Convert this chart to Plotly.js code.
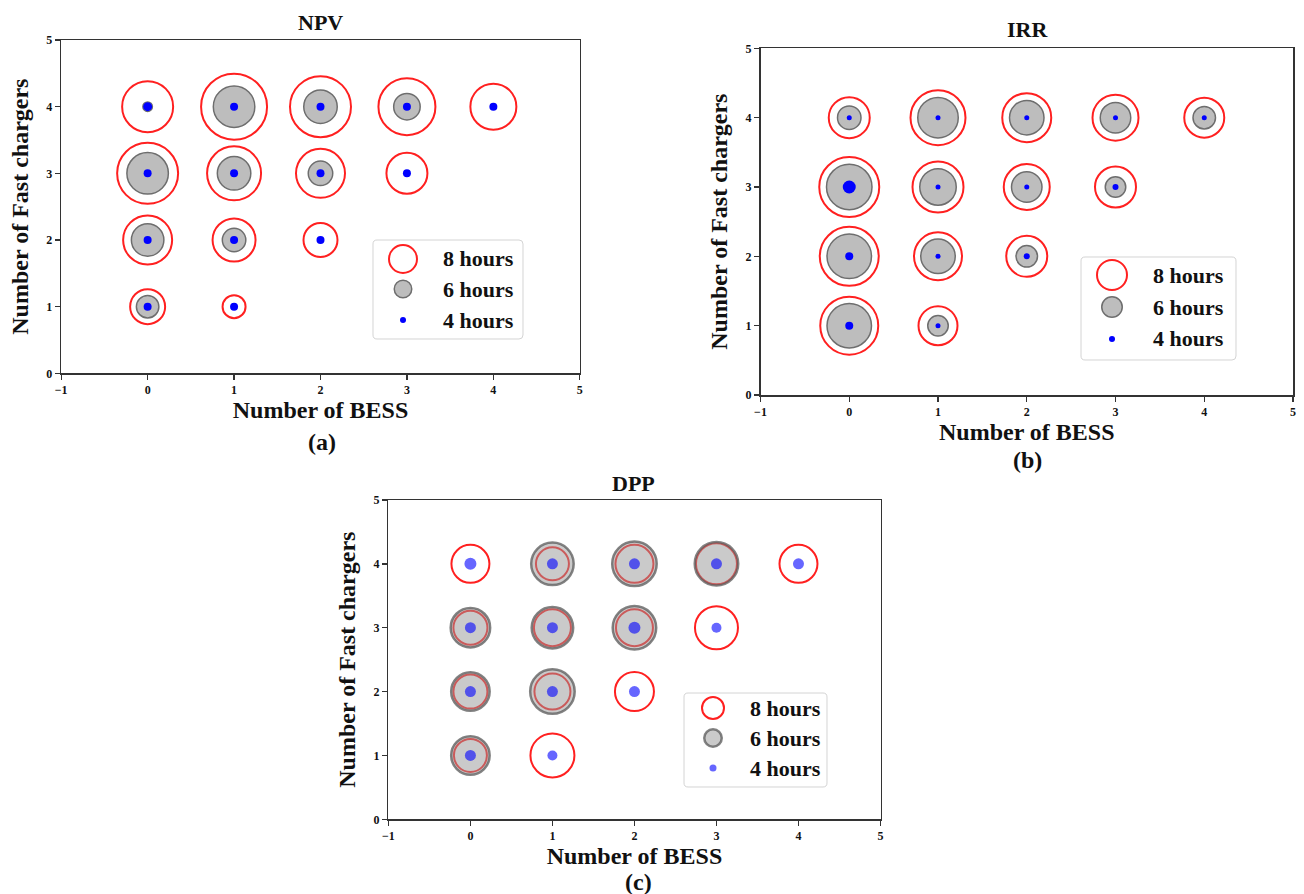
<!DOCTYPE html>
<html>
<head>
<meta charset="utf-8">
<script src="https://cdn.plot.ly/plotly-3.0.1.min.js"></script>
<style>html,body{margin:0;padding:0;background:#fff;}#chart{width:1304px;height:894px;}</style>
</head>
<body>
<div id="chart"></div>
<script>
// ---- data (bubble diameters, px) ----
const xBess     = [0,1,2,3,4, 0,1,2,3, 0,1,2, 0,1];
const yChargers = [4,4,4,4,4, 3,3,3,3, 2,2,2, 1,1];

const npv8h = [53,68,63,59,48, 63,56,51,43, 51,45,36, 37,25];
const npv6h = [11,43,35,28,0,  43,35,26,0,  34,25,0,  24,0];
const npv4h = [9,8,8,8,8,      8,8,8,8,     8,8,8,    8,8];

const irr8h = [43,57,51,48,42, 62,53,48,43, 61,50,43, 60,41];
const irr6h = [25,42,36,32,24, 47,38,32,22, 46,36,23, 46,22];
const irr4h = [5,5,5,5,5,      13,5,5,6,    8,5,6,    8,5];

const dpp8h = [40,35,40,43,40, 36,39,39,45, 36,38,41, 35,46];
const dpp6h = [0,45,47,46,0,   42,44,46,0,  41,47,0,  41,0];
const dpp4h = [12,11,11,11,11, 11,11,12,10, 11,11,11, 11,10];

const panelTitles = ['NPV', 'IRR', 'DPP'];
const panelLabels = ['(a)', '(b)', '(c)'];
const seriesNames = ['8 hours', '6 hours', '4 hours'];
const xTitle = 'Number of BESS';
const yTitle = 'Number of Fast chargers';

// ---- layout helpers ----
const W = 1304, H = 894;
const px = v => v / W;
const py = v => 1 - v / H;
const FONT = '"Liberation Serif", "Times New Roman", serif';

const panels = [
  {s8: npv8h, s6: npv6h, s4: npv4h, box: [61.2, 40, 579.8, 373.3], title: [320, 22], label: [322, 442],
   leg: {box: [373, 240, 523, 339], mx: 403, rows: [259, 289, 320], d: [30, 19, 6], tx: 441},
   c6: {fill: '#bdbdbd', line: '#6e6e6e', lw: 1.5}, c4: '#0000ff', c8: '#ff2020'},
  {s8: irr8h, s6: irr6h, s4: irr4h, box: [760.5, 48.3, 1293, 395], title: [1027, 30], label: [1027, 460],
   leg: {box: [1081, 257, 1236, 360], mx: 1112, rows: [275, 307, 339], d: [32, 22, 6], tx: 1151},
   c6: {fill: '#bdbdbd', line: '#6e6e6e', lw: 1.5}, c4: '#0000ff', c8: '#ff2020'},
  {s8: dpp8h, s6: dpp6h, s4: dpp4h, box: [388.4, 500, 880.5, 819.3], title: [633, 483], label: [638, 882],
   leg: {box: [684, 693, 827, 787], mx: 713, rows: [708, 738, 768], d: [24, 20, 7], tx: 748},
   c6: {fill: 'rgba(150,150,150,0.5)', line: 'rgba(90,90,90,0.75)', lw: 2.5}, c4: 'rgba(0,0,255,0.6)', c8: '#ff2020'}
];

function pick(sizes) {
  const xs = [], ys = [], ss = [];
  sizes.forEach((s, i) => { if (s > 0) { xs.push(xBess[i]); ys.push(yChargers[i]); ss.push(s); } });
  return {xs, ys, ss};
}

function roundedBox(x0, y0, x1, y1, r) {
  const X = v => px(v).toFixed(5), Y = v => py(v).toFixed(5);
  return 'M' + X(x0 + r) + ',' + Y(y0) + ' L' + X(x1 - r) + ',' + Y(y0) +
    ' Q' + X(x1) + ',' + Y(y0) + ' ' + X(x1) + ',' + Y(y0 + r) +
    ' L' + X(x1) + ',' + Y(y1 - r) + ' Q' + X(x1) + ',' + Y(y1) + ' ' + X(x1 - r) + ',' + Y(y1) +
    ' L' + X(x0 + r) + ',' + Y(y1) + ' Q' + X(x0) + ',' + Y(y1) + ' ' + X(x0) + ',' + Y(y1 - r) +
    ' L' + X(x0) + ',' + Y(y0 + r) + ' Q' + X(x0) + ',' + Y(y0) + ' ' + X(x0 + r) + ',' + Y(y0) + ' Z';
}

const data = [];
const layout = {
  width: W, height: H, margin: {l: 0, r: 0, t: 0, b: 0},
  paper_bgcolor: '#fff', plot_bgcolor: '#fff', showlegend: false,
  font: {family: FONT, color: '#111'},
  annotations: [], shapes: []
};

panels.forEach((p, k) => {
  const n = k === 0 ? '' : String(k + 1);
  const xa = 'x' + n, ya = 'y' + n;
  const lw8 = 2;
  const a8 = pick(p.s8), a6 = pick(p.s6), a4 = pick(p.s4);
  data.push({type: 'scatter', mode: 'markers', name: seriesNames[0], xaxis: xa, yaxis: ya,
    x: a8.xs, y: a8.ys, hoverinfo: 'x+y',
    marker: {size: a8.ss.map(s => s - lw8), opacity: 1, color: 'rgba(0,0,0,0)', line: {color: p.c8, width: lw8}}});
  data.push({type: 'scatter', mode: 'markers', name: seriesNames[1], xaxis: xa, yaxis: ya,
    x: a6.xs, y: a6.ys, hoverinfo: 'x+y',
    marker: {size: a6.ss.map(s => s - p.c6.lw), opacity: 1, color: p.c6.fill, line: {color: p.c6.line, width: p.c6.lw}}});
  data.push({type: 'scatter', mode: 'markers', name: seriesNames[2], xaxis: xa, yaxis: ya,
    x: a4.xs, y: a4.ys, hoverinfo: 'x+y',
    marker: {size: a4.ss, opacity: 1, color: p.c4, line: {width: 0}}});

  const axCommon = {
    showline: true, mirror: true, linecolor: '#333', linewidth: 1.5,
    ticks: 'outside', ticklen: 5, tickwidth: 1.3, tickcolor: '#333',
    showgrid: false, zeroline: false, dtick: 1, fixedrange: true,
    tickfont: {family: FONT, size: 12, color: '#111', weight: 'bold'}
  };
  layout['xaxis' + n] = Object.assign({}, axCommon, {
    anchor: ya, domain: [px(p.box[0]), px(p.box[2])], range: [-1, 5],
    title: {text: '<b>' + xTitle + '</b>', font: {family: FONT, size: 24, color: '#111'}, standoff: 5}
  });
  layout['yaxis' + n] = Object.assign({}, axCommon, {
    anchor: xa, domain: [py(p.box[3]), py(p.box[1])], range: [0, 5],
    title: {text: '<b>' + yTitle + '</b>', font: {family: FONT, size: 24, color: '#111'}, standoff: 11}
  });

  layout.annotations.push({text: '<b>' + panelTitles[k] + '</b>', xref: 'paper', yref: 'paper',
    x: px(p.title[0]), y: py(p.title[1]), xanchor: 'center', yanchor: 'middle', showarrow: false,
    font: {family: FONT, size: 22, color: '#111'}});
  layout.annotations.push({text: '<b>' + panelLabels[k] + '</b>', xref: 'paper', yref: 'paper',
    x: px(p.label[0]), y: py(p.label[1]), xanchor: 'center', yanchor: 'middle', showarrow: false,
    font: {family: FONT, size: 24, color: '#111'}});

  // legend box
  const L = p.leg;
  layout.shapes.push({type: 'path', xref: 'paper', yref: 'paper',
    path: roundedBox(L.box[0], L.box[1], L.box[2], L.box[3], 4),
    fillcolor: 'rgba(255,255,255,0.85)', line: {color: '#d4d4d4', width: 1}, layer: 'above'});
  const legStyles = [
    {fill: 'rgba(0,0,0,0)', line: p.c8, lw: 2},
    {fill: p.c6.fill, line: p.c6.line, lw: p.c6.lw},
    {fill: p.c4, line: 'rgba(0,0,0,0)', lw: 0}
  ];
  L.rows.forEach((ry, j) => {
    const r = (L.d[j] - legStyles[j].lw) / 2;
    layout.shapes.push({type: 'circle', xref: 'paper', yref: 'paper',
      x0: px(L.mx - r), x1: px(L.mx + r), y0: py(ry + r), y1: py(ry - r),
      fillcolor: legStyles[j].fill, line: {color: legStyles[j].line, width: legStyles[j].lw}, layer: 'above'});
    layout.annotations.push({text: '<b>' + seriesNames[j] + '</b>', xref: 'paper', yref: 'paper',
      x: px(L.tx), y: py(ry), xanchor: 'left', yanchor: 'middle', showarrow: false,
      font: {family: FONT, size: 22, color: '#111'}});
  });
});

Plotly.newPlot('chart', data, layout, {displayModeBar: false, staticPlot: true});
</script>
</body>
</html>
